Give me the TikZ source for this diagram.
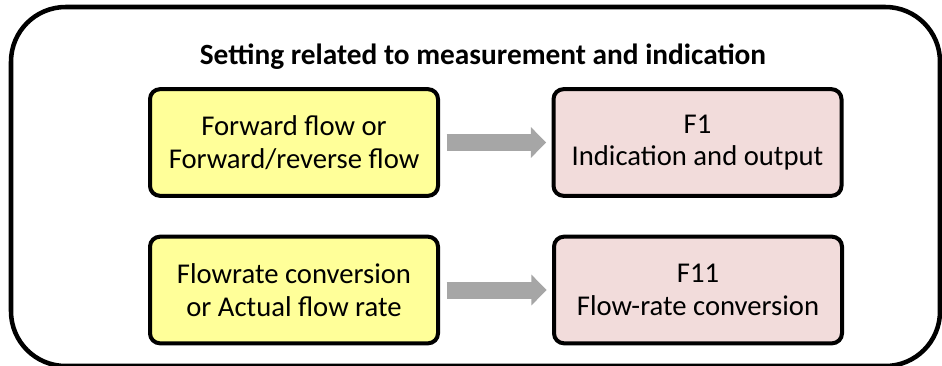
\documentclass[tikz,border=0pt]{standalone}
\usepackage{fontspec}
\setmainfont{Carlito}
\usetikzlibrary{arrows.meta}
\definecolor{boxyellow}{HTML}{FFFF99}
\definecolor{boxpink}{HTML}{F2DCDB}
\definecolor{arrowgray}{HTML}{A6A6A6}
\begin{document}
\begin{tikzpicture}[x=0.75pt,y=-0.75pt,
  stepbox/.style={draw=black, line width=3pt, rounded corners=7.5pt,
    minimum width=216pt, minimum height=80pt, align=center,
    font=\fontsize{21.5}{24.5}\selectfont, inner sep=0pt},
  srcbox/.style={stepbox, fill=boxyellow},
  dstbox/.style={stepbox, fill=boxpink},
  flowarrow/.style={draw=arrowgray, line width=12.75pt,
    -{Triangle[width=22.5pt,length=11.5pt]}, shorten <=5pt, shorten >=4pt},
]
\useasboundingbox (0,0) rectangle (942,365);
\draw[line width=3.4pt, rounded corners=41pt] (11,7) rectangle (940,366);
\node[font=\fontsize{22}{26}\bfseries\selectfont] (title) at (483,57) {Setting related to measurement and indication};
\node[srcbox] (y1) at (294,142.5) {Forward flow or\\Forward/reverse flow};
\node[dstbox] (p1) at (697.5,142.5) {F1\\Indication and output};
\node[srcbox] (y2) at (294,290) {Flowrate conversion\\or Actual flow rate};
\node[dstbox] (p2) at (698,290) {F11\\Flow-rate conversion};
\draw[flowarrow] (y1.east) -- (p1.west);
\draw[flowarrow] (y2.east) -- (p2.west);
\end{tikzpicture}
\end{document}
